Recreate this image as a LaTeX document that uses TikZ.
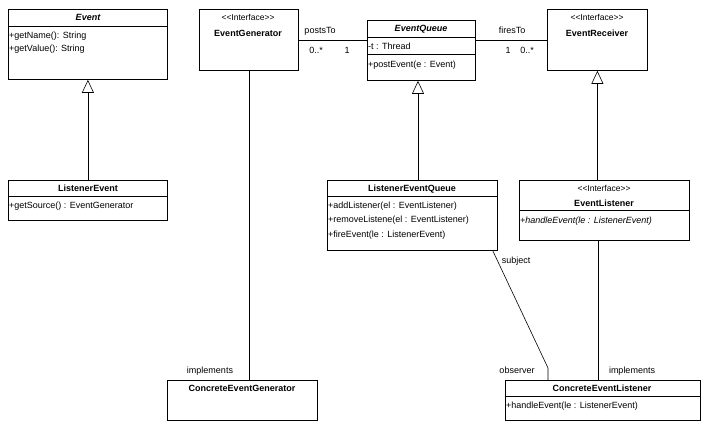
\documentclass[tikz,border=0pt]{standalone}
\usepackage{fontspec}
\setmainfont{Liberation Sans}
\usetikzlibrary{arrows.meta}
\usetikzlibrary{calc}
\usetikzlibrary{positioning}

\begin{document}
\begin{tikzpicture}
[
	x = 1pt, y = -1pt,
	Box/.style		= {draw, line width = 0.8pt, anchor = north west, inner sep = 0pt},
	Title/.style	= {font = \fontsize{9}{10}\selectfont\bfseries, anchor = base},
	Stereo/.style	= {font = \fontsize{8.5}{10}\selectfont, anchor = base},
	Member/.style	= {font = \fontsize{9}{10}\selectfont, anchor = base west, inner sep = 1pt},
	Label/.style	= {font = \fontsize{9}{10}\selectfont, anchor = base},
	Inherit/.style	= {line width = 0.6pt, -{Triangle[open, length = 13pt, width = 12pt]}},
	Assoc/.style	= {line width = 0.6pt},
]

	\useasboundingbox (0,0) rectangle (706,428);

	% boxes
	\node (ev) [Box, minimum width = 159pt, minimum height = 70pt] at (8,9) {};
	\node (le) [Box, minimum width = 159pt, minimum height = 40pt] at (8,180) {};
	\node (eg) [Box, minimum width = 99pt, minimum height = 61pt] at (199,9) {};
	\node (eq) [Box, minimum width = 108pt, minimum height = 60pt] at (367,20) {};
	\node (er) [Box, minimum width = 100pt, minimum height = 61pt] at (547,9) {};
	\node (lq) [Box, minimum width = 170pt, minimum height = 70pt] at (327,180) {};
	\node (el) [Box, minimum width = 170pt, minimum height = 60pt] at (519,180) {};
	\node (cg) [Box, minimum width = 150pt, minimum height = 40pt] at (167,380) {};
	\node (cl) [Box, minimum width = 195pt, minimum height = 40pt] at (505,380) {};

	% compartments
	\draw [line width = 0.6pt] (8,26) -- (167,26);
	\draw [line width = 0.6pt] (8,196) -- (167,196);
	\draw [line width = 0.6pt] (367,37) -- (475,37);
	\draw [line width = 0.6pt] (367,54) -- (475,54);
	\draw [line width = 0.6pt] (327,196) -- (497,196);
	\draw [line width = 0.6pt] (519,210) -- (689,210);
	\draw [line width = 0.6pt] (505,396) -- (700,396);

	% titles
	\node [Title, font = \fontsize{9}{10}\selectfont\bfseries\itshape] at (88,21) {Event};
	\node [Title] at (88,191) {ListenerEvent};
	\node [Stereo] at (248,21) {{<}{<}Interface{>}{>}};
	\node [Title] at (248,37) {EventGenerator};
	\node [Title, font = \fontsize{9}{10}\selectfont\bfseries\itshape] at (421,32) {EventQueue};
	\node [Stereo] at (597,21) {{<}{<}Interface{>}{>}};
	\node [Title] at (597,37) {EventReceiver};
	\node [Title] at (412,191) {ListenerEventQueue};
	\node [Stereo] at (604,191) {{<}{<}Interface{>}{>}};
	\node [Title] at (604,206) {EventListener};
	\node [Title] at (242,391) {ConcreteEventGenerator};
	\node [Title] at (602,391) {ConcreteEventListener};

	% members
	\node [Member] at (8,38) {+getName(): String};
	\node [Member] at (8,52) {+getValue(): String};
	\node [Member] at (8,208) {+getSource() : EventGenerator};
	\node [Member] at (367,49) {-t : Thread};
	\node [Member] at (367,67) {+postEvent(e : Event)};
	\node [Member] at (327,208) {+addListener(el : EventListener)};
	\node [Member] at (327,222) {+removeListene(el : EventListener)};
	\node [Member] at (327,237) {+fireEvent(le : ListenerEvent)};
	\node [Member, font = \fontsize{9}{10}\selectfont\itshape] at (519,223) {+handleEvent(le : ListenerEvent)};
	\node [Member] at (505,408) {+handleEvent(le : ListenerEvent)};

	% inheritance
	\draw [Inherit] (le.north) -- (ev.south);
	\draw [Inherit] (lq.north -| 418,0) -- (eq.south -| 418,0);
	\draw [Inherit] (el.north -| er.south) -- (er.south);

	% associations
	\draw [Assoc] (eg.east |- 0,40) -- (eq.west |- 0,40);
	\draw [Assoc] (eq.east |- 0,40) -- (er.west |- 0,40);
	\draw [Assoc] (eg.south) -- (cg.north -| eg.south);
	\draw [Assoc] (el.south -| 598,0) -- (cl.north -| 598,0);
	\coordinate (bend) at (548,368);
	\draw [Assoc] ($(lq.south east)+(-5,0)$) -- (bend) -- (cl.north -| bend);

	% labels
	\node [Label] at (320,34) {postsTo};
	\node [Label] at (316,53) {0..*};
	\node [Label] at (347,53) {1};
	\node [Label] at (512,34) {firesTo};
	\node [Label] at (508,53) {1};
	\node [Label] at (527,53) {0..*};
	\node [Label] at (210,373) {implements};
	\node [Label] at (632,373) {implements};
	\node [Label] at (516,263) {subject};
	\node [Label] at (517,373) {observer};

\end{tikzpicture}
\end{document}
